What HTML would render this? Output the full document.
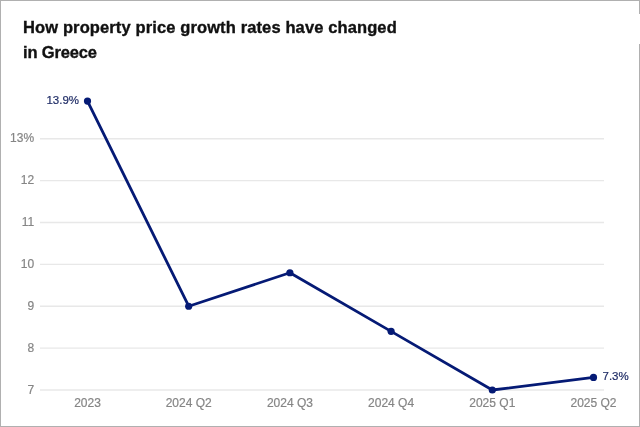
<!DOCTYPE html>
<html><head><meta charset="utf-8"><style>
html,body{margin:0;padding:0;background:#fff;}
body{width:640px;height:427px;position:relative;overflow:hidden;}
.frame{position:absolute;left:0;top:0;width:640px;height:427px;box-sizing:border-box;border:1px solid #b0b0b0;}
.gap{position:absolute;left:639px;top:14px;width:1px;height:30px;background:#fff;}
h1{position:absolute;left:23.4px;top:14.5px;margin:0;font:bold 16.5px/25px "Liberation Sans",sans-serif;color:#111;-webkit-text-stroke:0.35px #111;}
.l1{letter-spacing:0.12px;} .l2{letter-spacing:-0.15px;}
svg{position:absolute;left:0;top:0;will-change:transform;}
h1{will-change:transform;}
</style></head><body>
<div class="frame"></div><div class="gap"></div>
<h1><span class="l1">How property price growth rates have changed</span><br><span class="l2">in Greece</span></h1>
<svg width="640" height="427" viewBox="0 0 640 427">
<g stroke="#e8e8e8" stroke-width="1.4"><line x1="40" x2="604" y1="390.00" y2="390.00" /><line x1="40" x2="604" y1="348.12" y2="348.12" /><line x1="40" x2="604" y1="306.24" y2="306.24" /><line x1="40" x2="604" y1="264.36" y2="264.36" /><line x1="40" x2="604" y1="222.48" y2="222.48" /><line x1="40" x2="604" y1="180.60" y2="180.60" /><line x1="40" x2="604" y1="138.72" y2="138.72" /></g>
<g font-family="Liberation Sans, sans-serif" font-size="12" fill="#858585" stroke="#858585" stroke-width="0.2"><text x="34.1" y="393.60" text-anchor="end">7</text><text x="34.1" y="351.72" text-anchor="end">8</text><text x="34.1" y="309.84" text-anchor="end">9</text><text x="34.1" y="267.96" text-anchor="end">10</text><text x="34.1" y="226.08" text-anchor="end">11</text><text x="34.1" y="184.20" text-anchor="end">12</text><text x="34.1" y="142.32" text-anchor="end">13%</text><text x="87.50" y="406.6" text-anchor="middle">2023</text><text x="188.70" y="406.6" text-anchor="middle">2024 Q2</text><text x="289.90" y="406.6" text-anchor="middle">2024 Q3</text><text x="391.10" y="406.6" text-anchor="middle">2024 Q4</text><text x="492.30" y="406.6" text-anchor="middle">2025 Q1</text><text x="593.50" y="406.6" text-anchor="middle">2025 Q2</text></g>
<polyline points="87.50,101.03 188.70,306.24 289.90,272.74 391.10,331.37 492.30,390.00 593.50,377.44" fill="none" stroke="#051a75" stroke-width="2.8" stroke-linejoin="round" stroke-linecap="round"/>
<g fill="#051a75"><circle cx="87.50" cy="101.03" r="3.6" /><circle cx="188.70" cy="306.24" r="3.6" /><circle cx="289.90" cy="272.74" r="3.6" /><circle cx="391.10" cy="331.37" r="3.6" /><circle cx="492.30" cy="390.00" r="3.6" /><circle cx="593.50" cy="377.44" r="3.6" /></g>
<g font-family="Liberation Sans, sans-serif" font-size="11.5" fill="#1f2c66" stroke="#1f2c66" stroke-width="0.2">
<text x="79" y="103.8" text-anchor="end">13.9%</text>
<text x="602.5" y="380" text-anchor="start">7.3%</text>
</g>
</svg>
</body></html>
